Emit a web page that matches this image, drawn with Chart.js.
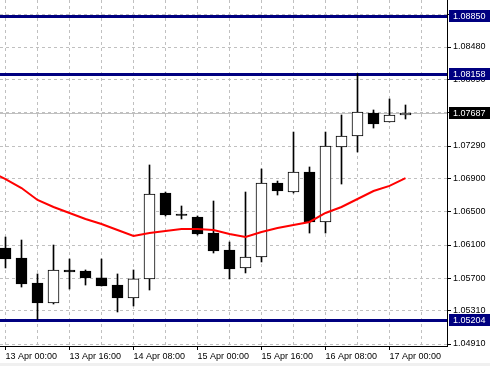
<!DOCTYPE html>
<html>
<head>
<meta charset="utf-8">
<script src="https://cdn.jsdelivr.net/npm/chart.js@4/dist/chart.umd.min.js"></script>
<style>
  html, body { margin: 0; padding: 0; background: #fff; }
  #wrap { width: 490px; height: 366px; position: relative; }
</style>
</head>
<body>
<div id="wrap"><canvas id="chart"></canvas></div>
<script>
// EURUSD H4, bar 0 = 13 Apr 00:00
const opens  = [1.06064, 1.05944, 1.05643, 1.05403, 1.05800, 1.05788, 1.05704, 1.05619, 1.05463, 1.05692,
                1.06725, 1.06473, 1.06437, 1.06244, 1.06040, 1.05824, 1.05956, 1.06845, 1.06737, 1.06978,
                1.06377, 1.07278, 1.07410, 1.07687, 1.07579, 1.07663];
const highs  = [1.06196, 1.06160, 1.05752, 1.06100, 1.05932, 1.05800, 1.05932, 1.05752, 1.05800, 1.07062,
                1.06737, 1.06569, 1.06449, 1.06629, 1.06136, 1.06737, 1.07014, 1.06869, 1.07458, 1.07038,
                1.07458, 1.07663, 1.08158, 1.07723, 1.07855, 1.07783];
const lows   = [1.05824, 1.05595, 1.05204, 1.05391, 1.05571, 1.05619, 1.05607, 1.05295, 1.05367, 1.05559,
                1.06449, 1.06413, 1.06220, 1.06004, 1.05692, 1.05764, 1.05896, 1.06701, 1.06725, 1.06244,
                1.06244, 1.06833, 1.07218, 1.07506, 1.07579, 1.07615];
const closes = [1.05932, 1.05631, 1.05403, 1.05800, 1.05776, 1.05704, 1.05607, 1.05463, 1.05692, 1.06713,
                1.06461, 1.06455, 1.06232, 1.06028, 1.05812, 1.05956, 1.06845, 1.06749, 1.06978, 1.06377,
                1.07290, 1.07410, 1.07699, 1.07555, 1.07663, 1.07687];

// moving average, first value belongs to the bar before bar 0
const maStart = -1;
const maValues = [1.06990, 1.06893, 1.06785, 1.06641, 1.06557, 1.06485, 1.06413, 1.06352, 1.06280, 1.06208,
                  1.06244, 1.06268, 1.06292, 1.06292, 1.06280, 1.06232, 1.06196, 1.06256, 1.06304, 1.06340,
                  1.06377, 1.06485, 1.06557, 1.06653, 1.06749, 1.06810, 1.06905];

const timeLabels = ['13 Apr 00:00', '13 Apr 16:00', '14 Apr 08:00', '15 Apr 00:00',
                    '15 Apr 16:00', '16 Apr 08:00', '17 Apr 00:00'];
const labelStep = 4;   // one time label every 4 bars
const gridStep = 2;
const priceTicks = [1.04910, 1.05310, 1.05700, 1.06100, 1.06500, 1.06900,
                    1.07290, 1.07690, 1.08090, 1.08480, 1.08870];
const levels = [1.08850, 1.08158, 1.05204];
const lastPrice = 1.07687;

const bodies = opens.map((o, i) => ({x: i, y: [o, closes[i]]}));
const wicks = lows.map((l, i) => ({x: i, y: [l, highs[i]]}));
const ma = maValues.map((v, i) => ({x: i + maStart, y: v}));
const bodyColors = opens.map((o, i) => closes[i] >= o ? '#ffffff' : '#000000');

const FONT = {family: 'Liberation Sans', size: 9};

const levelPlugin = {
    id: 'levels',
    beforeDraw(chart) {
        const ctx = chart.ctx;
        ctx.save();
        ctx.fillStyle = '#ffffff';
        ctx.fillRect(0, 0, chart.width, chart.height);
        ctx.fillStyle = '#f0f0f0';
        ctx.fillRect(0, 363, chart.width, 3);
        ctx.restore();
    },
    beforeDatasetsDraw(chart) {
        const {ctx, chartArea: a, scales: {y}} = chart;
        ctx.save();
        ctx.strokeStyle = '#c0c0c0';
        ctx.lineWidth = 1;
        let py = Math.round(y.getPixelForValue(lastPrice)) + 0.5;
        ctx.beginPath(); ctx.moveTo(a.left, py); ctx.lineTo(a.right, py); ctx.stroke();

        ctx.strokeStyle = '#000080';
        ctx.lineWidth = 3;
        levels.forEach(v => {
            const ly = Math.round(y.getPixelForValue(v)) + 0.5;
            ctx.beginPath(); ctx.moveTo(a.left, ly); ctx.lineTo(a.right, ly); ctx.stroke();
        });
        ctx.restore();
    },
    afterDraw(chart) {
        const {ctx, chartArea: a, scales: {y}} = chart;
        ctx.save();
        ctx.font = FONT.size + 'px ' + FONT.family;
        ctx.textBaseline = 'middle';
        const box = (v, bg) => {
            const r = Math.round(y.getPixelForValue(v));
            ctx.fillStyle = bg;
            ctx.fillRect(a.right + 2, r - 6, chart.width - a.right - 2, 12);
            ctx.fillStyle = '#ffffff';
            ctx.fillText(v.toFixed(5), a.right + 6, r + 0.5);
        };
        levels.forEach(v => box(v, '#000080'));
        box(lastPrice, '#000000');
        ctx.restore();
    }
};

new Chart(document.getElementById('chart'), {
    type: 'bar',
    data: {
        datasets: [
            {
                type: 'line',
                data: ma,
                borderColor: '#ff0000',
                borderWidth: 2,
                pointRadius: 0,
                fill: false,
                tension: 0,
                order: 0
            },
            {
                data: bodies,
                backgroundColor: bodyColors,
                borderColor: '#000000',
                borderWidth: 1,
                borderSkipped: false,
                barThickness: 11,
                grouped: false,
                order: 1
            },
            {
                data: wicks,
                backgroundColor: '#000000',
                borderWidth: 0,
                barThickness: 1,
                grouped: false,
                order: 2
            }
        ]
    },
    options: {
        responsive: true,
        maintainAspectRatio: false,
        devicePixelRatio: 1,
        animation: false,
        events: [],
        layout: {padding: 0},
        plugins: {legend: {display: false}, tooltip: {enabled: false}},
        scales: {
            x: {
                type: 'linear',
                min: -0.34375,
                max: 27.59375,
                offset: false,
                afterBuildTicks: s => {
                    s.ticks = [];
                    for (let v = 0; v <= 27; v += gridStep) s.ticks.push({value: v});
                },
                afterFit: s => { s.height = 20; s.paddingLeft = 0; s.paddingRight = 0; },
                grid: {
                    offset: false,
                    color: '#c0c0c0',
                    lineWidth: 1,
                    tickLength: 4,
                    tickBorderDash: [],
                    tickColor: c => (c.tick && c.tick.value % labelStep === 0) ? '#000000' : 'rgba(0,0,0,0)'
                },
                border: {color: '#000000', width: 1, dash: [3, 3]},
                ticks: {
                    autoSkip: false,
                    maxRotation: 0,
                    align: 'start',
                    padding: 1,
                    color: '#000000',
                    font: FONT,
                    callback: v => v % labelStep === 0 ? (timeLabels[v / labelStep] || '') : ''
                }
            },
            y: {
                position: 'right',
                min: 1.048861,
                max: 1.09045,
                afterBuildTicks: s => { s.ticks = priceTicks.map(v => ({value: v})); },
                afterFit: s => { s.width = 43; s.paddingTop = 0; s.paddingBottom = 0; },
                grid: {color: '#c0c0c0', lineWidth: 1, tickLength: 4, tickColor: '#000000', tickBorderDash: []},
                border: {color: '#000000', width: 1, dash: [3, 3]},
                ticks: {
                    autoSkip: false,
                    padding: 2,
                    color: '#000000',
                    font: FONT,
                    callback: v => v.toFixed(5)
                }
            }
        }
    },
    plugins: [levelPlugin]
});
</script>
</body>
</html>
